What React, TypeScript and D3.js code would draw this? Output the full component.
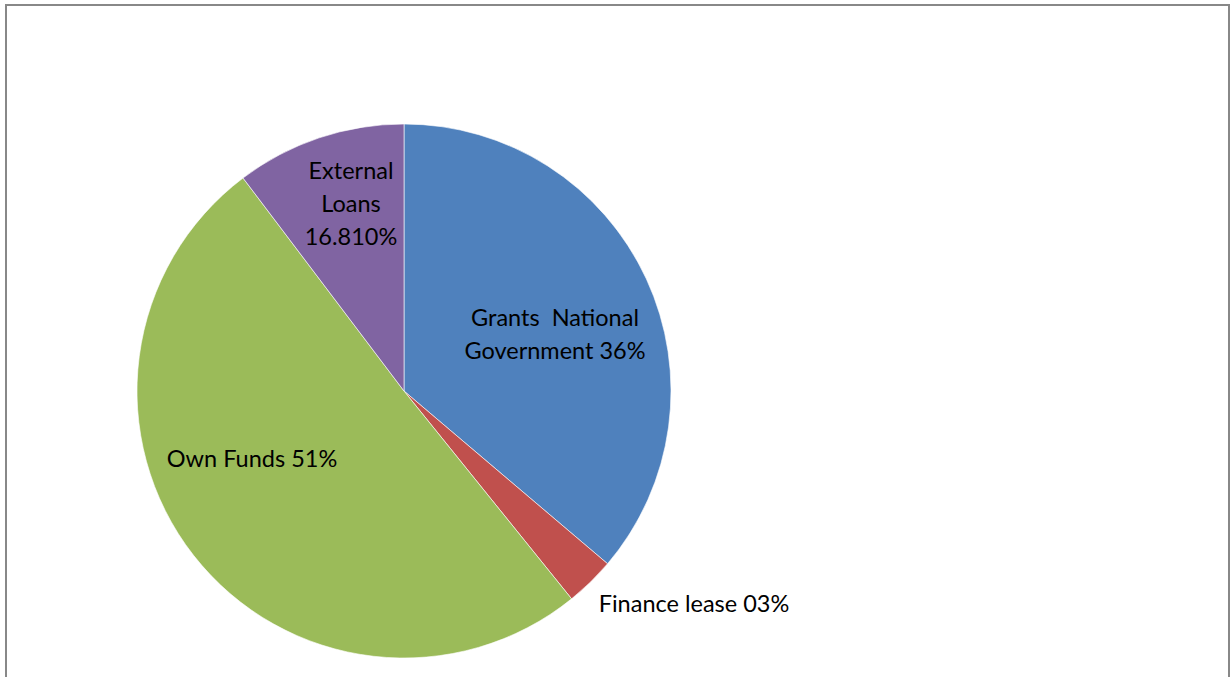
import React from "react";
import * as d3 from "d3";

const categories = ["Grants  National Government", "Finance lease", "Own Funds", "External Loans"];
const values = [36.2, 3.0, 50.5, 10.3];
const labelLines = [
  ["Grants  National", "Government 36%"],
  ["Finance lease 03%"],
  ["Own Funds 51%"],
  ["External", "Loans", "16.810%"],
];
const colors = ["#4F81BD", "#C0504D", "#9BBB59", "#8064A2"];

// label placement (layout): [dx, dy] of the label centre relative to pie centre
const labelPos: [number, number][] = [
  [151, -58],
  [290, 212],
  [-152, 67],
  [-53, -188],
];

export default function App() {
  const W = 1231, H = 677;
  const cx = 404, cy = 391, r = 267;
  const pie = d3.pie<number>().sort(null).value((d) => d)(values);
  const arc = d3.arc<d3.PieArcDatum<number>>().innerRadius(0).outerRadius(r);
  const fontSize = 23.5;
  const lineH = 33;
  return (
    <svg width={W} height={H} style={{ position: "absolute", left: 0, top: 0 }}>
      <rect x={0} y={0} width={W} height={H} fill="#fff" />
      <rect x={6} y={5} width={1223} height={700} fill="none" stroke="#888" strokeWidth={2} />
      <g transform={`translate(${cx},${cy})`}>
        {pie.map((p, i) => (
          <path key={categories[i]} d={arc(p) || ""} fill={colors[i]} stroke="#fff" strokeWidth={0.6} />
        ))}
        {labelLines.map((lines, i) => {
          const [lx, ly] = labelPos[i];
          const y0 = ly - ((lines.length - 1) * lineH) / 2;
          return (
            <text key={i} textAnchor="middle" fontFamily="Lato, sans-serif" fontSize={fontSize} fill="#000">
              {lines.map((t, j) => (
                <tspan key={j} x={lx} y={y0 + j * lineH} dominantBaseline="central" style={{ whiteSpace: "pre" }}>
                  {t}
                </tspan>
              ))}
            </text>
          );
        })}
      </g>
    </svg>
  );
}
